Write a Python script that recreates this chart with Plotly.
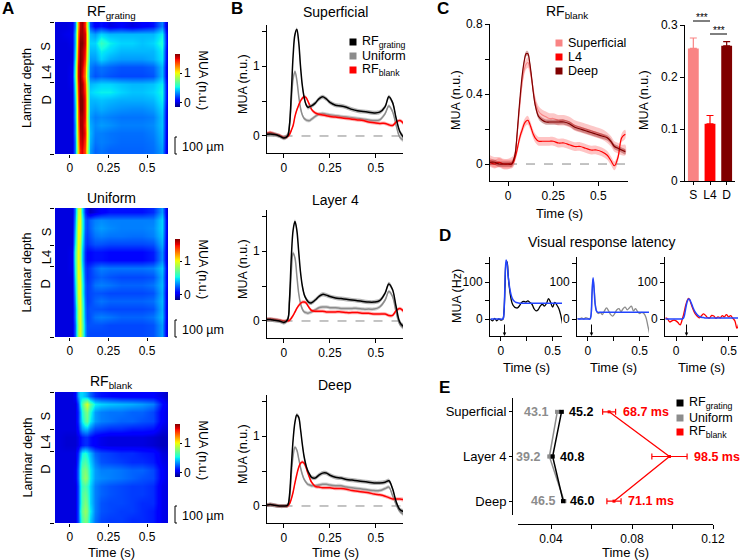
import plotly.graph_objects as go

# ------------------------------------------------------------------ data
HEAT_T = [-0.075, -0.025, 0.015, 0.035, 0.05, 0.065, 0.08, 0.095, 0.11, 0.13,
          0.16, 0.2, 0.26, 0.33, 0.4, 0.47, 0.54, 0.6, 0.635]
HEAT_ROWS = list(range(16))
HEAT_GRATING = [
    [0.0, 0.0, 0.02, 0.3, 1.2, 1.55, 1.6, 1.4, 0.9, 0.2, 0.05, 0.1, 0.0, 0.05, 0.0, 0.05, 0.1, 0.3, -0.1],
    [0.0, 0.02, 0.03, 0.4, 1.3, 1.6, 1.6, 1.5, 1.0, 0.4, 0.35, 0.45, 0.4, 0.4, 0.4, 0.4, 0.4, 0.5, -0.05],
    [0.0, 0.0, 0.02, 0.4, 1.35, 1.65, 1.65, 1.5, 1.0, 0.45, 0.45, 0.6, 0.5, 0.45, 0.45, 0.42, 0.45, 0.55, -0.05],
    [0.0, 0.0, 0.0, 0.45, 1.4, 1.65, 1.6, 1.45, 0.95, 0.4, 0.4, 0.5, 0.45, 0.4, 0.4, 0.4, 0.4, 0.5, -0.08],
    [0.0, 0.0, 0.0, 0.5, 1.45, 1.65, 1.6, 1.4, 0.9, 0.35, 0.35, 0.45, 0.38, 0.35, 0.35, 0.35, 0.38, 0.48, -0.08],
    [0.0, 0.0, 0.02, 0.6, 1.5, 1.65, 1.55, 1.3, 0.8, 0.3, 0.25, 0.28, 0.25, 0.22, 0.22, 0.22, 0.25, 0.4, -0.08],
    [0.0, 0.0, 0.03, 0.65, 1.5, 1.65, 1.5, 1.25, 0.75, 0.28, 0.22, 0.25, 0.22, 0.2, 0.2, 0.2, 0.22, 0.4, -0.08],
    [0.0, 0.0, 0.02, 0.55, 1.45, 1.65, 1.6, 1.35, 0.85, 0.4, 0.42, 0.45, 0.45, 0.42, 0.4, 0.4, 0.42, 0.5, -0.05],
    [0.0, 0.0, 0.0, 0.5, 1.4, 1.65, 1.6, 1.4, 0.9, 0.45, 0.48, 0.5, 0.5, 0.45, 0.42, 0.42, 0.45, 0.52, -0.05],
    [0.0, 0.0, 0.0, 0.45, 1.35, 1.7, 1.65, 1.45, 0.95, 0.4, 0.4, 0.42, 0.4, 0.38, 0.38, 0.38, 0.4, 0.5, -0.05],
    [0.0, 0.0, 0.0, 0.4, 1.3, 1.65, 1.65, 1.45, 0.95, 0.38, 0.35, 0.38, 0.35, 0.33, 0.32, 0.32, 0.35, 0.45, -0.08],
    [0.0, 0.0, 0.0, 0.4, 1.3, 1.6, 1.6, 1.45, 0.9, 0.35, 0.3, 0.32, 0.3, 0.28, 0.28, 0.28, 0.3, 0.42, -0.08],
    [0.0, 0.0, 0.0, 0.35, 1.25, 1.6, 1.6, 1.4, 0.95, 0.38, 0.32, 0.35, 0.33, 0.3, 0.3, 0.3, 0.32, 0.42, -0.08],
    [0.0, 0.0, 0.0, 0.35, 1.2, 1.55, 1.6, 1.45, 1.0, 0.4, 0.3, 0.3, 0.28, 0.27, 0.27, 0.27, 0.3, 0.4, -0.08],
    [0.0, 0.0, 0.0, 0.3, 1.15, 1.5, 1.55, 1.4, 0.95, 0.38, 0.28, 0.3, 0.28, 0.26, 0.26, 0.26, 0.28, 0.38, -0.08],
    [0.0, 0.0, 0.0, 0.3, 1.1, 1.45, 1.5, 1.35, 0.9, 0.35, 0.25, 0.28, 0.25, 0.25, 0.25, 0.25, 0.27, 0.35, -0.08],
]
HEAT_UNIFORM = [
    [0.0, 0.0, 0.0, 0.3, 0.9, 0.95, 0.5, 0.15, 0.05, -0.05, 0.0, 0.05, 0.1, 0.1, 0.1, 0.1, 0.15, 0.35, -0.1],
    [0.0, 0.0, 0.0, 0.35, 0.95, 1.0, 0.6, 0.25, 0.2, 0.25, 0.3, 0.32, 0.3, 0.3, 0.3, 0.3, 0.3, 0.45, -0.08],
    [0.0, 0.0, 0.0, 0.4, 1.0, 1.0, 0.6, 0.25, 0.2, 0.25, 0.32, 0.35, 0.32, 0.3, 0.3, 0.3, 0.32, 0.45, -0.08],
    [0.0, 0.0, 0.0, 0.45, 1.0, 0.95, 0.55, 0.22, 0.18, 0.22, 0.28, 0.3, 0.28, 0.28, 0.27, 0.27, 0.3, 0.42, -0.08],
    [0.0, 0.0, 0.0, 0.5, 1.0, 0.9, 0.5, 0.2, 0.15, 0.18, 0.22, 0.22, 0.2, 0.2, 0.2, 0.2, 0.22, 0.38, -0.08],
    [0.0, 0.0, 0.02, 0.6, 1.0, 0.85, 0.45, 0.15, 0.08, 0.08, 0.1, 0.1, 0.08, 0.08, 0.08, 0.08, 0.12, 0.32, -0.08],
    [0.0, 0.0, 0.02, 0.6, 1.0, 0.85, 0.45, 0.15, 0.08, 0.08, 0.1, 0.1, 0.08, 0.08, 0.08, 0.08, 0.12, 0.32, -0.08],
    [0.0, 0.0, 0.02, 0.55, 1.0, 0.9, 0.5, 0.2, 0.15, 0.18, 0.25, 0.3, 0.28, 0.28, 0.28, 0.28, 0.3, 0.42, -0.05],
    [0.0, 0.0, 0.0, 0.5, 1.0, 0.95, 0.55, 0.22, 0.15, 0.18, 0.22, 0.25, 0.22, 0.2, 0.2, 0.2, 0.22, 0.38, -0.05],
    [0.0, 0.0, 0.0, 0.45, 0.95, 1.0, 0.6, 0.25, 0.18, 0.2, 0.28, 0.3, 0.28, 0.25, 0.25, 0.25, 0.28, 0.4, -0.05],
    [0.0, 0.0, 0.0, 0.4, 0.95, 1.0, 0.6, 0.25, 0.18, 0.2, 0.22, 0.22, 0.2, 0.2, 0.2, 0.2, 0.22, 0.38, -0.08],
    [0.0, 0.0, 0.0, 0.35, 0.9, 1.0, 0.65, 0.28, 0.18, 0.2, 0.25, 0.28, 0.25, 0.25, 0.25, 0.25, 0.27, 0.4, -0.08],
    [0.0, 0.0, 0.0, 0.3, 0.85, 1.0, 0.7, 0.3, 0.2, 0.22, 0.22, 0.22, 0.2, 0.2, 0.2, 0.2, 0.22, 0.38, -0.08],
    [0.0, 0.0, 0.0, 0.3, 0.85, 1.0, 0.7, 0.32, 0.2, 0.22, 0.28, 0.3, 0.28, 0.25, 0.25, 0.25, 0.28, 0.4, -0.08],
    [0.0, 0.0, 0.0, 0.25, 0.8, 1.0, 0.75, 0.35, 0.22, 0.22, 0.22, 0.22, 0.2, 0.2, 0.2, 0.2, 0.22, 0.35, -0.08],
    [0.0, 0.0, 0.0, 0.25, 0.8, 1.0, 0.75, 0.35, 0.22, 0.2, 0.2, 0.2, 0.2, 0.2, 0.2, 0.2, 0.22, 0.35, -0.08],
]
HEAT_BLANK = [
    [0.0, 0.0, 0.0, 0.05, 0.35, 0.45, 0.45, 0.4, 0.35, 0.25, 0.15, 0.1, 0.08, 0.05, 0.05, 0.05, 0.05, 0.0, -0.05],
    [0.0, 0.0, 0.0, 0.0, 0.2, 0.45, 0.65, 0.85, 0.95, 0.7, 0.5, 0.45, 0.42, 0.4, 0.38, 0.35, 0.3, 0.1, 0.0],
    [0.0, 0.0, 0.0, 0.0, 0.15, 0.35, 0.55, 0.7, 0.75, 0.55, 0.35, 0.3, 0.28, 0.28, 0.25, 0.25, 0.2, 0.05, 0.0],
    [0.0, 0.0, 0.0, 0.0, 0.15, 0.35, 0.5, 0.65, 0.7, 0.5, 0.35, 0.3, 0.28, 0.25, 0.25, 0.22, 0.2, 0.05, 0.0],
    [0.0, 0.0, 0.0, 0.0, 0.1, 0.25, 0.35, 0.4, 0.4, 0.3, 0.2, 0.18, 0.15, 0.15, 0.12, 0.12, 0.1, 0.0, -0.02],
    [0.0, -0.02, -0.02, -0.02, 0.02, 0.08, 0.12, 0.15, 0.15, 0.1, 0.05, 0.02, 0.0, 0.0, 0.0, 0.0, -0.02, -0.05, -0.05],
    [0.0, -0.02, -0.02, -0.02, 0.02, 0.08, 0.12, 0.15, 0.15, 0.1, 0.05, 0.02, 0.0, 0.0, 0.0, 0.0, -0.02, -0.05, -0.05],
    [0.0, 0.0, 0.0, 0.0, 0.15, 0.35, 0.5, 0.55, 0.5, 0.4, 0.25, 0.2, 0.18, 0.15, 0.15, 0.12, 0.1, 0.0, -0.02],
    [0.0, 0.0, 0.0, 0.0, 0.2, 0.45, 0.6, 0.65, 0.6, 0.45, 0.3, 0.22, 0.2, 0.18, 0.15, 0.15, 0.12, 0.02, 0.0],
    [0.0, 0.0, 0.0, 0.02, 0.25, 0.5, 0.7, 0.75, 0.7, 0.5, 0.35, 0.3, 0.3, 0.28, 0.25, 0.25, 0.2, 0.05, 0.0],
    [0.0, 0.0, 0.0, 0.02, 0.25, 0.5, 0.7, 0.8, 0.75, 0.5, 0.35, 0.32, 0.3, 0.28, 0.25, 0.22, 0.2, 0.05, 0.0],
    [0.0, 0.0, 0.0, 0.0, 0.2, 0.45, 0.6, 0.65, 0.6, 0.45, 0.3, 0.25, 0.22, 0.2, 0.18, 0.18, 0.15, 0.02, 0.0],
    [0.0, 0.0, 0.0, 0.0, 0.2, 0.45, 0.65, 0.7, 0.65, 0.45, 0.3, 0.25, 0.22, 0.2, 0.18, 0.18, 0.15, 0.02, 0.0],
    [0.0, 0.0, 0.0, 0.0, 0.2, 0.45, 0.65, 0.75, 0.7, 0.45, 0.3, 0.22, 0.2, 0.2, 0.18, 0.15, 0.15, 0.02, 0.0],
    [0.0, 0.0, 0.0, 0.0, 0.2, 0.5, 0.7, 0.8, 0.75, 0.5, 0.3, 0.22, 0.2, 0.18, 0.18, 0.15, 0.12, 0.02, 0.0],
    [0.0, 0.0, 0.0, 0.0, 0.2, 0.45, 0.65, 0.75, 0.7, 0.45, 0.28, 0.2, 0.18, 0.18, 0.15, 0.15, 0.12, 0.02, 0.0],
]
LAYER_TICKS = [-0.5, 4.1, 6.8, 15.5]
LAYER_LABELS = ["S", "L4", "D"]
LAYER_LABEL_POS = [2.5, 5.6, 9.0]

T = [-0.1, -0.075, -0.05, -0.025, 0.0,
     0.02, 0.03, 0.04, 0.05, 0.06, 0.07, 0.08, 0.09,
     0.1, 0.11, 0.12, 0.13, 0.14, 0.15,
     0.17, 0.19, 0.21, 0.23, 0.25,
     0.28, 0.31, 0.34, 0.37, 0.4, 0.43, 0.46, 0.49,
     0.52, 0.55, 0.57, 0.59, 0.61, 0.63, 0.65]
SUP_GRATING = [0.02, 0.03, 0.02, 0.0, -0.03,
               0.0, 0.15, 0.6, 1.15, 1.45, 1.52, 1.35, 1.0,
               0.72, 0.55, 0.45, 0.41, 0.42, 0.43,
               0.47, 0.53, 0.56, 0.53, 0.48,
               0.44, 0.43, 0.41, 0.38, 0.36, 0.35, 0.34, 0.33,
               0.34, 0.42, 0.56, 0.48, 0.25, 0.06, -0.02]
SUP_UNIFORM = [0.02, 0.03, 0.02, 0.0, -0.02,
               0.02, 0.15, 0.5, 0.82, 0.92, 0.8, 0.58, 0.4,
               0.3, 0.25, 0.23, 0.22, 0.22, 0.24,
               0.28, 0.31, 0.32, 0.31, 0.3,
               0.29, 0.28, 0.27, 0.26, 0.25, 0.24, 0.23, 0.22,
               0.23, 0.32, 0.43, 0.35, 0.15, -0.02, -0.06]
SUP_BLANK = [0.03, 0.05, 0.03, 0.01, -0.02,
             -0.01, 0.02, 0.08, 0.15, 0.28, 0.37, 0.44, 0.5,
             0.54, 0.56, 0.55, 0.5, 0.44, 0.38,
             0.33, 0.31, 0.3, 0.29, 0.28,
             0.27, 0.26, 0.25, 0.24, 0.23, 0.22, 0.2, 0.19,
             0.18, 0.18, 0.16, 0.15, 0.2, 0.22, 0.18]
L4_GRATING = [0.02, 0.02, 0.01, 0.0, -0.02,
              0.02, 0.3, 0.9, 1.3, 1.42, 1.3, 1.0, 0.7,
              0.5, 0.38, 0.32, 0.28, 0.26, 0.26,
              0.3, 0.35, 0.38, 0.37, 0.35,
              0.33, 0.32, 0.31, 0.3, 0.29, 0.28, 0.27, 0.27,
              0.29, 0.4, 0.53, 0.45, 0.2, -0.02, -0.08]
L4_UNIFORM = [0.02, 0.02, 0.01, 0.0, -0.02,
              0.02, 0.25, 0.7, 0.97, 0.9, 0.65, 0.4, 0.25,
              0.17, 0.13, 0.12, 0.11, 0.12, 0.13,
              0.16, 0.19, 0.2, 0.2, 0.19,
              0.19, 0.18, 0.18, 0.18, 0.18, 0.17, 0.17, 0.17,
              0.2, 0.3, 0.42, 0.35, 0.12, -0.05, -0.1]
L4_BLANK = [0.02, 0.03, 0.02, 0.01, 0.0,
            0.0, 0.01, 0.04, 0.08, 0.13, 0.18, 0.22, 0.25,
            0.27, 0.27, 0.26, 0.22, 0.18, 0.15,
            0.14, 0.14, 0.14, 0.13, 0.13,
            0.13, 0.13, 0.12, 0.12, 0.12, 0.11, 0.11, 0.1,
            0.1, 0.1, 0.08, 0.08, 0.15, 0.18, 0.14]
DEEP_GRATING = [0.01, 0.02, 0.01, 0.0, 0.0,
                0.01, 0.15, 0.55, 0.95, 1.2, 1.3, 1.27, 1.1,
                0.88, 0.7, 0.58, 0.5, 0.45, 0.41,
                0.4, 0.44, 0.47, 0.47, 0.44,
                0.41, 0.4, 0.38, 0.37, 0.36, 0.35, 0.34, 0.33,
                0.33, 0.34, 0.36, 0.25, 0.06, -0.05, -0.08]
DEEP_UNIFORM = [0.01, 0.02, 0.01, 0.0, 0.0,
                0.01, 0.1, 0.45, 0.72, 0.84, 0.8, 0.68, 0.55,
                0.45, 0.38, 0.34, 0.31, 0.3, 0.29,
                0.29, 0.3, 0.31, 0.31, 0.3,
                0.29, 0.29, 0.27, 0.26, 0.25, 0.24, 0.23, 0.22,
                0.22, 0.25, 0.27, 0.15, 0.02, -0.08, -0.12]
DEEP_BLANK = [0.01, 0.02, 0.01, 0.0, 0.0,
              0.0, 0.03, 0.1, 0.2, 0.33, 0.45, 0.55, 0.61,
              0.63, 0.61, 0.55, 0.47, 0.4, 0.34,
              0.28, 0.27, 0.26, 0.26, 0.26,
              0.25, 0.25, 0.24, 0.22, 0.21, 0.2, 0.19, 0.17,
              0.16, 0.14, 0.12, 0.1, 0.1, 0.1, 0.09]
SEM_GRATING, SEM_UNIFORM, SEM_BLANK = 0.03, 0.025, 0.025

C_SUP = [0.02, 0.01, 0.01, 0.0, 0.0,
         0.01, 0.02, 0.06, 0.16, 0.28, 0.39, 0.48, 0.54,
         0.57, 0.58, 0.55, 0.49, 0.42, 0.36,
         0.3, 0.28, 0.27, 0.26, 0.26,
         0.25, 0.25, 0.24, 0.22, 0.21, 0.2, 0.19, 0.18,
         0.17, 0.15, 0.13, 0.1, 0.09, 0.08, 0.08]
C_L4 = [0.01, 0.0, 0.01, 0.0, 0.0,
        0.0, 0.01, 0.04, 0.08, 0.13, 0.17, 0.2, 0.23,
        0.245, 0.25, 0.23, 0.2, 0.17, 0.15,
        0.13, 0.13, 0.13, 0.13, 0.13,
        0.12, 0.12, 0.11, 0.1, 0.1, 0.09, 0.08, 0.08,
        0.07, 0.05, 0.02, -0.01, 0.04, 0.15, 0.17]
C_DEEP = [0.01, 0.01, 0.0, 0.0, 0.0,
          0.0, 0.02, 0.06, 0.17, 0.3, 0.42, 0.52, 0.59,
          0.63, 0.63, 0.58, 0.5, 0.41, 0.34,
          0.27, 0.25, 0.24, 0.24, 0.24,
          0.24, 0.24, 0.23, 0.21, 0.2, 0.19, 0.18, 0.17,
          0.16, 0.15, 0.13, 0.1, 0.09, 0.08, 0.07]
C_SEM = [0.03, 0.025, 0.015]
C_NAMES = ["Superficial", "L4", "Deep"]

BAR_LAYERS = ["S", "L4", "D"]
BAR_MEAN = [0.255, 0.11, 0.26]
BAR_SEM = [0.02, 0.016, 0.008]

TD = [-0.1, -0.08, -0.06, -0.04, -0.02, 0.0,
      0.02, 0.03, 0.04, 0.05, 0.06, 0.07, 0.08, 0.09,
      0.1, 0.11, 0.12, 0.13, 0.14,
      0.16, 0.18, 0.2, 0.22, 0.24, 0.26, 0.28, 0.3,
      0.32, 0.34, 0.36, 0.38, 0.4, 0.42, 0.44, 0.46, 0.48, 0.5, 0.52, 0.54, 0.56, 0.58, 0.6]
D_GRATING = [0, -5, 2, -5, 0, -3,
             0, 20, 90, 150, 155, 120, 90, 68,
             52, 42, 36, 33, 31,
             30, 36, 45, 48, 46, 49, 45, 40,
             28, 22, 25, 35, 40, 35, 42, 55, 45, 32, 45, 38, 28, 8, -20]
D_GRATING_FIT = [0, 0, 0, 0, 0, 0,
                 0, 20, 100, 160, 150, 118, 93, 76,
                 64, 56, 51, 48, 46,
                 44, 43, 43, 43, 43, 43, 43, 43,
                 43, 43, 43, 43, 43, 43, 43, 43, 43, 43, 43, 43, 43, 43, 43]
D_UNIFORM = [2, 0, 3, 0, 4, 2,
             0, 8, 65, 108, 85, 45, 25, 18,
             15, 16, 18, 15, 12,
             22, 30, 22, 12, 8, 15, 25, 28,
             20, 28, 32, 25, 30, 35, 22, 28, 20, 15, 18, 15, 5, -20, -45]
D_UNIFORM_FIT = [0, 0, 0, 0, 0, 0,
                 0, 10, 70, 112, 80, 40, 24, 19,
                 18, 18, 18, 18, 18,
                 18, 18, 18, 18, 18, 18, 18, 18,
                 18, 18, 18, 18, 18, 18, 18, 18, 18, 18, 18, 18, 18, 18, 18]
D_BLANK = [3, 0, -8, -5, -3, -5,
           -10, -14, -16, -10, 0, 10, 22, 35,
           45, 52, 56, 52, 44,
           28, 15, 8, 3, 8, 14, 10, 4,
           3, 10, 8, 2, 6, 3, 9, 6, 12, 6, 9, 2, -5, -25, -8]
D_BLANK_FIT = [0, 0, 0, 0, 0, 0,
               0, 0, 0, 0, 0, 2, 10, 25,
               40, 50, 54, 53, 47,
               32, 20, 12, 7, 5, 4, 3, 3,
               3, 3, 3, 3, 3, 3, 3, 3, 3, 3, 3, 3, 3, 3, 3]
D_LATENCY = [0.035, 0.035, 0.1]

E_LAYERS = ["Superficial", "Layer 4", "Deep"]
E_POS = [2, 1, 0]
E_GRATING = [0.0452, 0.0408, 0.0460]
E_GRATING_ERR = [0.0008, 0.0006, 0.0008]
E_UNIFORM = [0.0431, 0.0392, 0.0465]
E_UNIFORM_ERR = [0.0008, 0.0006, 0.0008]
E_BLANK = [0.0687, 0.0985, 0.0711]
E_BLANK_ERR = [0.0032, 0.0087, 0.0035]

# ------------------------------------------------------------------ styling helpers
W, H = 740, 560
FONT = "Arial, 'Liberation Sans', Helvetica, sans-serif"
BLACK, GREY, RED = "#000000", "#8c8c8c", "#ff0000"
PINK, DARKRED = "#f98484", "#800000"
BLUE = "#2244ff"
JET = [[0, "rgb(0,0,128)"], [0.11, "rgb(0,0,255)"], [0.125, "rgb(0,0,255)"],
       [0.34, "rgb(0,219,255)"], [0.35, "rgb(0,229,247)"], [0.375, "rgb(20,255,226)"],
       [0.64, "rgb(239,255,8)"], [0.65, "rgb(247,245,0)"], [0.66, "rgb(255,236,0)"],
       [0.89, "rgb(255,19,0)"], [0.91, "rgb(232,0,0)"], [1, "rgb(128,0,0)"]]


def px(x):
    return x / W


def py(y):
    return 1 - y / H


def xd(a, b):
    return [a / W, b / W]


def yd(top, bot):
    return [1 - bot / H, 1 - top / H]


def aref(i, k):
    return k if i == 1 else f"{k}{i}"


def aname(i, k):
    return f"{k}axis" if i == 1 else f"{k}axis{i}"


fig = go.Figure()
annotations, shapes, axes = [], [], {}


def text(s, x, y, size=12, xanchor="center", yanchor="middle", angle=0, color="black", bold=False):
    if bold:
        s = "<b>" + s + "</b>"
    annotations.append(dict(text=s, x=px(x), y=py(y), xref="paper", yref="paper", showarrow=False,
                            xanchor=xanchor, yanchor=yanchor, textangle=angle,
                            font=dict(size=size, color=color, family=FONT)))


def axis(domain, rng, tickvals, ticktext, anchor, **kw):
    d = dict(domain=domain, range=rng, tickvals=tickvals, ticktext=ticktext, anchor=anchor,
             showgrid=False, zeroline=False, showline=True, linecolor="black", linewidth=1,
             ticks="outside", ticklen=4, tickwidth=1, tickcolor="black",
             tickfont=dict(size=12, color="black", family=FONT), fixedrange=True, automargin=False)
    d.update(kw)
    return d


def legend_entry(x, y, color, label, size=12.5):
    shapes.append(dict(type="rect", xref="paper", yref="paper", x0=px(x - 3.5), x1=px(x + 3.5),
                       y0=py(y + 3.5), y1=py(y - 3.5), fillcolor=color, line=dict(width=0)))
    text(label, x + 7, y, size=size, xanchor="left")


# ------------------------------------------------------------------ A: heat maps
heat_boxes = [(1, 22, 154, HEAT_GRATING, "RF<sub>grating</sub>", 54, 107),
              (2, 208, 337, HEAT_UNIFORM, "Uniform", 239, 300),
              (3, 392, 523, HEAT_BLANK, "RF<sub>blank</sub>", 424, 477)]
for i, top, bot, z, title, cb_top, cb_bot in heat_boxes:
    fig.add_trace(go.Heatmap(
        x=HEAT_T, y=HEAT_ROWS, z=z, colorscale=JET, zmin=-0.15, zmax=1.65, zsmooth="best",
        xaxis=aref(i, "x"), yaxis=aref(i, "y"), hoverinfo="skip",
        colorbar=dict(x=px(175), xanchor="left", y=py((cb_top + cb_bot) / 2), yanchor="middle",
                      len=(cb_bot - cb_top) / H, lenmode="fraction", thickness=5,
                      thicknessmode="pixels", xpad=0, ypad=0, outlinewidth=0,
                      tickvals=[0, 1], ticktext=["0", "1"], ticks="outside", ticklen=2,
                      tickcolor="black", tickfont=dict(size=12, color="black", family=FONT))))
    axes[aname(i, "x")] = axis(xd(55, 168), [-0.097, 0.636], [0, 0.25, 0.5], ["0", "0.25", "0.5"],
                               aref(i, "y"), showline=False, ticklen=3)
    axes[aname(i, "y")] = axis(yd(top, bot), [15.5, -0.5], LAYER_TICKS, [""] * 4,
                               aref(i, "x"), showline=False, ticklen=4)
    text(title, 111, top - 10, size=14)
    text("Laminar depth", 27, (top + bot) / 2, size=12.5, angle=-90)
    for lab, pos in zip(LAYER_LABELS, LAYER_LABEL_POS):
        annotations.append(dict(text=lab, x=px(46), y=pos, xref="paper", yref=aref(i, "y"),
                                xanchor="center", yanchor="middle", showarrow=False, textangle=-90,
                                font=dict(size=13, color="black", family=FONT)))
    text("MUA (n.u.)", 203, (cb_top + cb_bot) / 2, size=12.5, angle=90)
    sb_bot = bot
    sb_top = bot - 17
    shapes.append(dict(type="line", xref="paper", yref="paper", x0=px(175), x1=px(175),
                       y0=py(sb_top), y1=py(sb_bot), line=dict(color="black", width=1)))
    for yy in (sb_top, sb_bot):
        shapes.append(dict(type="line", xref="paper", yref="paper", x0=px(175), x1=px(177),
                           y0=py(yy), y1=py(yy), line=dict(color="black", width=1)))
    text("100 µm", 180, (sb_top + sb_bot) / 2 + 1, size=12.5, xanchor="left")
text("Time (s)", 111, 552, size=13)


def band_line(i, y, sem, color, band, width=1.5):
    upper = [v + sem for v in y]
    lower = [v - sem for v in y]
    fig.add_trace(go.Scatter(x=T + T[::-1], y=upper + lower[::-1], fill="toself", fillcolor=band,
                             line=dict(width=0, shape="spline"), mode="lines", hoverinfo="skip",
                             xaxis=aref(i, "x"), yaxis=aref(i, "y")))
    fig.add_trace(go.Scatter(x=T, y=y, mode="lines", line=dict(color=color, width=width, shape="spline"),
                             xaxis=aref(i, "x"), yaxis=aref(i, "y")))


b_boxes = [(4, 25, 153, "Superficial", SUP_GRATING, SUP_UNIFORM, SUP_BLANK, 12),
           (5, 210, 338, "Layer 4", L4_GRATING, L4_UNIFORM, L4_BLANK, 200),
           (6, 395, 523, "Deep", DEEP_GRATING, DEEP_UNIFORM, DEEP_BLANK, 385)]
for i, top, bot, title, g, u, b, ty in b_boxes:
    shapes.append(dict(type="line", xref=aref(i, "x"), yref=aref(i, "y"), x0=-0.1, x1=0.65, y0=0, y1=0,
                       layer="below", line=dict(color="#888888", width=1, dash="dash")))
    band_line(i, u, SEM_UNIFORM, GREY, "rgba(170,170,170,0.55)")
    band_line(i, b, SEM_BLANK, RED, "rgba(255,90,90,0.45)")
    band_line(i, g, SEM_GRATING, BLACK, "rgba(110,110,110,0.5)")
    axes[aname(i, "x")] = axis(xd(267, 403), [-0.092, 0.647], [0, 0.25, 0.5], ["0", "0.25", "0.5"], aref(i, "y"))
    axes[aname(i, "y")] = axis(yd(top, bot), [-0.243, 1.586], [0, 0.5, 1, 1.5], ["0", "", "1", ""], aref(i, "x"))
    text(title, 335, ty, size=14)
    text("MUA (n.u.)", 243, (top + bot) / 2 - 5, size=12.5, angle=-90)
text("Time (s)", 335, 552, size=13)
legend_entry(353, 42, BLACK, "RF<sub>grating</sub>")
legend_entry(353, 56, GREY, "Uniform")
legend_entry(353, 70, RED, "RF<sub>blank</sub>")

shapes.append(dict(type="line", xref="x7", yref="y7", x0=-0.1, x1=0.665, y0=0, y1=0, layer="below",
                   line=dict(color="#888888", width=1, dash="dash")))
c_styles = [(PINK, "rgba(249,132,132,0.45)"), (RED, "rgba(255,60,60,0.3)"), (DARKRED, "rgba(128,0,0,0.35)")]
for series, sem, (col, band) in zip([C_SUP, C_L4, C_DEEP], C_SEM, c_styles):
    band_line(7, series, sem, col, band, width=1.2)
axes["xaxis7"] = axis(xd(490, 628), [-0.1, 0.665], [0, 0.25, 0.5], ["0", "0.25", "0.5"], "y7")
axes["yaxis7"] = axis(yd(24, 181), [-0.097, 0.8], [0, 0.2, 0.4, 0.6, 0.8], ["0", "", "0.4", "", "0.8"], "x7")
text("RF<sub>blank</sub>", 567, 12, size=14)
text("MUA (n.u.)", 456, 100, size=12.5, angle=-90)
text("Time (s)", 559, 213, size=13)
for (col, _), name, yy in zip(c_styles, C_NAMES, [43, 57, 71]):
    legend_entry(559, yy, col, name)

bar_colors = [PINK, RED, DARKRED]
for lab, m, s, col in zip(BAR_LAYERS, BAR_MEAN, BAR_SEM, bar_colors):
    fig.add_trace(go.Bar(x=[lab], y=[m], width=0.65, marker=dict(color=col, line=dict(width=0)),
                         error_y=dict(type="data", array=[s], arrayminus=[0], symmetric=False,
                                      color=col, thickness=1.2, width=3.5),
                         xaxis="x8", yaxis="y8"))
axes["xaxis8"] = axis(xd(685, 735), [-0.5, 2.5], None, None, "y8", type="category",
                      categoryarray=BAR_LAYERS, categoryorder="array", ticklen=3)
axes["xaxis8"].pop("tickvals")
axes["xaxis8"].pop("ticktext")
axes["yaxis8"] = axis(yd(25, 181), [0, 0.3], [0, 0.1, 0.2, 0.3], ["0", "0.1", "0.2", "0.3"], "x8")
text("MUA (n.u.)", 644, 100, size=12.5, angle=-90)
for x0, x1, yy in [(693, 710, 21), (710, 727, 34)]:
    shapes.append(dict(type="line", xref="paper", yref="paper", x0=px(x0), x1=px(x1), y0=py(yy), y1=py(yy),
                       line=dict(color="black", width=1)))
    text("***", (x0 + x1) / 2, yy - 4, size=10)

d_boxes = [(9, 490, 562, D_GRATING, D_GRATING_FIT, BLACK),
           (10, 577, 649, D_UNIFORM, D_UNIFORM_FIT, GREY),
           (11, 665, 738, D_BLANK, D_BLANK_FIT, RED)]
for (i, x0, x1, raw, fit, col), lat in zip(d_boxes, D_LATENCY):
    fig.add_trace(go.Scatter(x=TD, y=raw, mode="lines", line=dict(color=col, width=1.3, shape="spline"),
                             xaxis=aref(i, "x"), yaxis=aref(i, "y")))
    fig.add_trace(go.Scatter(x=TD, y=fit, mode="lines", line=dict(color=BLUE, width=1.5, shape="spline"),
                             xaxis=aref(i, "x"), yaxis=aref(i, "y")))
    axes[aname(i, "x")] = axis(xd(x0, x1), [-0.105, 0.59], [0, 0.25, 0.5], ["0", "", "0.5"], aref(i, "y"))
    axes[aname(i, "y")] = axis(yd(257, 336), [-46, 168], [0, 50, 100, 150], ["0", "", "100", ""], aref(i, "x"))
    annotations.append(dict(text="", x=lat, y=-46, xref=aref(i, "x"), yref=aref(i, "y"), showarrow=True,
                            arrowhead=2, arrowsize=0.7, arrowwidth=1, arrowcolor="black", ax=0, ay=-13))
    text("Time (s)", (x0 + x1) / 2, 367, size=13)
text("Visual response latency", 602, 242, size=14)
text("MUA (Hz)", 457, 296, size=12.5, angle=-90)

fig.add_trace(go.Scatter(x=E_UNIFORM, y=E_POS, mode="lines+markers",
                         line=dict(color=GREY, width=1.5), marker=dict(symbol="square", size=4, color=GREY),
                         error_x=dict(type="data", array=E_UNIFORM_ERR, color=GREY, thickness=1, width=2),
                         xaxis="x12", yaxis="y12"))
fig.add_trace(go.Scatter(x=E_GRATING, y=E_POS, mode="lines+markers",
                         line=dict(color=BLACK, width=1.5), marker=dict(symbol="square", size=4, color=BLACK),
                         error_x=dict(type="data", array=E_GRATING_ERR, color=BLACK, thickness=1, width=2),
                         xaxis="x12", yaxis="y12"))
fig.add_trace(go.Scatter(x=E_BLANK, y=E_POS, mode="lines+markers",
                         line=dict(color=RED, width=1.3), marker=dict(symbol="square", size=3, color=RED),
                         error_x=dict(type="data", array=E_BLANK_ERR, color=RED, thickness=1.2, width=3),
                         xaxis="x12", yaxis="y12"))
for v, p in zip(E_GRATING, E_POS):
    annotations.append(dict(text=f"<b>{v * 1000:.1f}</b>", x=v, y=p, xref="x12", yref="y12", showarrow=False,
                            xanchor="left", xshift=5, font=dict(size=12.5, color=BLACK, family=FONT)))
for v, p in zip(E_UNIFORM, E_POS):
    annotations.append(dict(text=f"<b>{v * 1000:.1f}</b>", x=v, y=p, xref="x12", yref="y12", showarrow=False,
                            xanchor="right", xshift=-7, font=dict(size=12.5, color=GREY, family=FONT)))
for v, e, p in zip(E_BLANK, E_BLANK_ERR, E_POS):
    annotations.append(dict(text=f"<b>{v * 1000:.1f} ms</b>", x=v + e, y=p, xref="x12", yref="y12",
                            showarrow=False, xanchor="left", xshift=5,
                            font=dict(size=12.5, color=RED, family=FONT)))
axes["xaxis12"] = axis(xd(518, 713), [0.0237, 0.12], [0.04, 0.06, 0.08, 0.1, 0.12],
                       ["0.04", "", "0.08", "", "0.12"], "free", position=py(524))
axes["yaxis12"] = axis(yd(398, 515), [-0.31, 2.31], E_POS, E_LAYERS, "free", position=px(512),
                       ticklen=3, tickfont=dict(size=13, color="black", family=FONT))
text("Time (s)", 625, 552, size=13)
legend_entry(680, 403, BLACK, "RF<sub>grating</sub>")
legend_entry(680, 418, GREY, "Uniform")
legend_entry(680, 432, RED, "RF<sub>blank</sub>")

for letter, x, y in [("A", 8, 9), ("B", 237, 9), ("C", 443, 9), ("D", 445, 235), ("E", 444, 387)]:
    text(letter, x, y, size=17, bold=True)

fig.update_layout(
    width=W, height=H, margin=dict(l=0, r=0, t=0, b=0, pad=0, autoexpand=False),
    paper_bgcolor="white", plot_bgcolor="white", showlegend=False, barmode="overlay",
    font=dict(family=FONT, color="black", size=12),
    annotations=annotations, shapes=shapes, **axes)

PAGE_CSS = ("document.documentElement.style.margin='0';document.body.style.margin='0';"
            "document.body.style.padding='0';document.documentElement.style.overflow='hidden';"
            "document.body.style.overflow='hidden';")
fig.write_html("out.html", config={"displayModeBar": False}, post_script=PAGE_CSS)
